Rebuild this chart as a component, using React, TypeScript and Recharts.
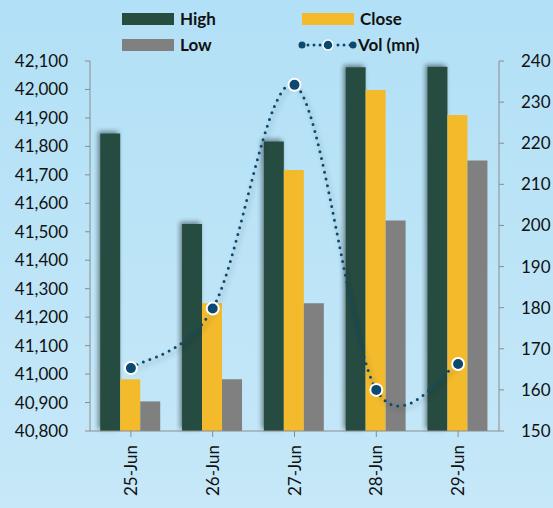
import React from "react";
import { ComposedChart, Bar, Line, XAxis, YAxis } from "recharts";

const dates = ["25-Jun", "26-Jun", "27-Jun", "28-Jun", "29-Jun"];
const high = [41845, 41527, 41817, 42078, 42080];
const close = [40982, 41249, 41717, 41998, 41910];
const low = [40904, 40982, 41249, 41540, 41750];
const vol = [165.3, 179.8, 234.2, 160.0, 166.3];

const priceTicks = [40800, 40900, 41000, 41100, 41200, 41300, 41400, 41500, 41600, 41700, 41800, 41900, 42000, 42100];
const volTicks = [150, 160, 170, 180, 190, 200, 210, 220, 230, 240];

const FONT = "Lato, 'Open Sans', sans-serif";
const GREEN = "#264c3f";
const YELLOW = "#f3ba2c";
const GREY = "#808080";
const NAVY = "#0b4a6e";
const AXIS = "#8c8c8c";

const data = dates.map((d, i) => ({
  date: d,
  high: high[i],
  close: close[i],
  low: low[i],
  vol: vol[i],
}));

// spreadsheet-style smoothed line (catmull-rom through the points)
const smoothCurve = (ctx: any) => {
  let pts: [number, number][] = [];
  return {
    areaStart() {},
    areaEnd() {},
    lineStart() {
      pts = [];
    },
    point(x: number, y: number) {
      pts.push([+x, +y]);
    },
    lineEnd() {
      if (!pts.length) return;
      ctx.moveTo(pts[0][0], pts[0][1]);
      for (let i = 0; i < pts.length - 1; i++) {
        const p0 = pts[Math.max(i - 1, 0)];
        const p1 = pts[i];
        const p2 = pts[i + 1];
        const p3 = pts[Math.min(i + 2, pts.length - 1)];
        ctx.bezierCurveTo(
          p1[0] + (p2[0] - p0[0]) / 6,
          p1[1] + (p2[1] - p0[1]) / 6,
          p2[0] - (p3[0] - p1[0]) / 6,
          p2[1] - (p3[1] - p1[1]) / 6,
          p2[0],
          p2[1]
        );
      }
    },
  };
};

const DateTick = ({ x, y, payload }: any) => (
  <g transform={`translate(${x},${y})`}>
    <text
      transform="rotate(-90)"
      x={-8}
      y={0}
      dy="0.36em"
      textAnchor="end"
      fill="#111"
      fontSize={17}
      fontFamily={FONT}
    >
      {payload.value}
    </text>
  </g>
);

const VolDot = ({ cx, cy }: any) => (
  <circle cx={cx} cy={cy} r={6} fill={NAVY} stroke="#fff" strokeWidth={2} />
);

const Swatch = ({ color }: { color: string }) => (
  <span style={{ display: "inline-block", width: 52, height: 12, background: color, marginRight: 6 }} />
);

const legendText: React.CSSProperties = {
  fontFamily: FONT,
  fontWeight: 700,
  fontSize: 17,
  color: "#111",
};

const Legend = () => (
  <div style={{ position: "absolute", left: 0, top: 0, width: 553, height: 60, pointerEvents: "none" }}>
    <div style={{ position: "absolute", left: 122, top: 8, display: "flex", alignItems: "center" }}>
      <Swatch color={GREEN} />
      <span style={legendText}>High</span>
    </div>
    <div style={{ position: "absolute", left: 302, top: 8, display: "flex", alignItems: "center" }}>
      <Swatch color={YELLOW} />
      <span style={legendText}>Close</span>
    </div>
    <div style={{ position: "absolute", left: 122, top: 34, display: "flex", alignItems: "center" }}>
      <Swatch color={GREY} />
      <span style={legendText}>Low</span>
    </div>
    <div style={{ position: "absolute", left: 297, top: 34, display: "flex", alignItems: "center" }}>
      <svg width={60} height={14} style={{ marginRight: 1 }}>
        <line x1={5} y1={7} x2={56} y2={7} stroke={NAVY} strokeWidth={3} strokeDasharray="0 6" strokeLinecap="round" />
        <circle cx={5} cy={7} r={3.5} fill={NAVY} />
        <circle cx={56} cy={7} r={3.5} fill={NAVY} />
        <circle cx={31} cy={7} r={5} fill={NAVY} stroke="#fff" strokeWidth={1.5} />
      </svg>
      <span style={legendText}>Vol (mn)</span>
    </div>
  </div>
);

export default function App() {
  return (
    <div
      style={{
        position: "absolute",
        left: 0,
        top: 0,
        width: 553,
        height: 508,
        background: "linear-gradient(to bottom, #b2e0f6, #c6e8f8)",
      }}
    >
      <ComposedChart
        width={553}
        height={508}
        data={data}
        margin={{ top: 61, right: 0, bottom: 0, left: 0 }}
        barCategoryGap="12.5%"
        barGap={0}
      >
        <defs>
          <filter id="barShadow" x="-30%" y="-10%" width="160%" height="120%">
            <feDropShadow dx={-2} dy={-2} stdDeviation={2.5} floodColor="#000" floodOpacity={0.45} />
          </filter>
          <filter id="lineShadow" x="-10%" y="-10%" width="120%" height="130%">
            <feDropShadow dx={2} dy={3} stdDeviation={2.5} floodColor="#000" floodOpacity={0.35} />
          </filter>
        </defs>
        <XAxis
          dataKey="date"
          height={77}
          stroke={AXIS}
          tickSize={6}
          tickMargin={0}
          tick={<DateTick />}
          interval={0}
        />
        <YAxis
          yAxisId="price"
          orientation="left"
          width={90}
          domain={[40800, 42100]}
          ticks={priceTicks}
          interval={0}
          stroke={AXIS}
          tickSize={5}
          tickMargin={17}
          tick={{ fill: "#111", fontSize: 17, fontFamily: FONT }}
          tickFormatter={(v: number) => v.toLocaleString("en-US")}
        />
        <YAxis
          yAxisId="vol"
          orientation="right"
          width={54}
          domain={[150, 240]}
          ticks={volTicks}
          interval={0}
          stroke={AXIS}
          tickSize={5}
          tickMargin={17}
          tick={{ fill: "#111", fontSize: 17, fontFamily: FONT, textAnchor: "start" }}
        />
        <Bar yAxisId="price" dataKey="high" name="High" fill={GREEN} filter="url(#barShadow)" isAnimationActive={false} />
        <Bar yAxisId="price" dataKey="close" name="Close" fill={YELLOW} isAnimationActive={false} />
        <Bar yAxisId="price" dataKey="low" name="Low" fill={GREY} isAnimationActive={false} />
        <Line
          yAxisId="vol"
          dataKey="vol"
          name="Vol (mn)"
          type={smoothCurve as any}
          stroke={NAVY}
          strokeWidth={3}
          strokeDasharray="0 7"
          strokeLinecap="round"
          dot={<VolDot />}
          activeDot={false}
          filter="url(#lineShadow)"
          isAnimationActive={false}
        />
      </ComposedChart>
      <Legend />
    </div>
  );
}
